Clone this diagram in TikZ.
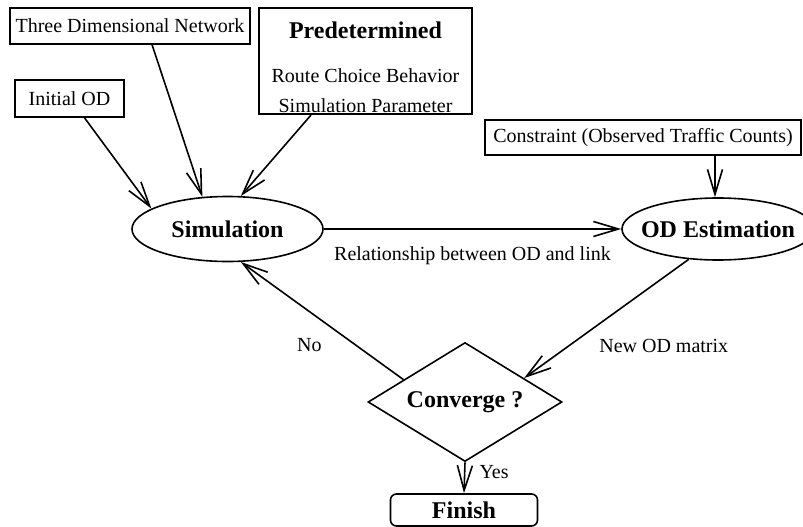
\documentclass[tikz,border=0pt]{standalone}
\usepackage{fontspec}
\setmainfont{Liberation Serif}
\usetikzlibrary{positioning}
\usetikzlibrary{arrows.meta}
\usetikzlibrary{shapes.geometric}

\newcommand{\titlefont}{\fontsize{24}{28}\selectfont\bfseries}

\begin{document}
\begin{tikzpicture}[x=1pt,y=-1pt,
    every node/.style={font=\fontsize{20}{24}\selectfont},
    box/.style={draw,line width=1.6pt,inner sep=0pt},
    oval/.style={draw,ellipse,line width=1.6pt,inner sep=0pt,font=\titlefont},
    lbl/.style={inner sep=0pt},
    flow/.style={-{Straight Barb[length=25pt,width=15pt]},line width=1.6pt}]
            \useasboundingbox (0,0) rectangle (803,527);

            % inputs
            \node(net) [box,minimum width=240pt,minimum height=35.5pt] at (130,26) {Three Dimensional Network};
            \node(pre) [box,minimum width=213pt,minimum height=106pt,align=center,font=\fontsize{20}{29.5}\selectfont] at (365.5,61.25)
                {{\titlefont\rule{0pt}{28.5pt}Predetermined}\\[14.5pt] Route Choice Behavior\\ Simulation Parameter};
            \node(init) [box,minimum width=109pt,minimum height=37pt] at (69.5,98.5) {Initial OD};
            \node(cons) [box,minimum width=316pt,minimum height=35pt] at (643,137.5) {Constraint (Observed Traffic Counts)};

            % loop
            \node(sim) [oval,minimum width=191pt,minimum height=65pt] at (227.5,229) {Simulation};
            \node(od) [oval,inner xsep=-12pt,minimum width=192pt,minimum height=62pt] at (718,229) {OD Estimation};
            \node(conv) [draw,diamond,shape aspect=2,line width=1.6pt,inner sep=0pt,minimum width=194pt,minimum height=119pt,font=\titlefont] at (465,402) {Converge ?};
            \node(fin) [box,rounded corners=6pt,minimum width=147pt,minimum height=32pt,font=\titlefont] at (464,510) {Finish};

            \draw[flow] ([xshift=15pt] init.south) -- (sim.165);
            \draw[flow] ([xshift=22pt] net.south) -- (sim.128);
            \draw[flow] ([xshift=-54.5pt] pre.south) -- (sim.68);
            \draw[flow] ([xshift=-3pt] cons.south -| od.north) -- ([xshift=-3pt] od.north);
            \draw[flow] (sim.east) -- node(rel) [lbl,below=17pt] {Relationship between OD and link} (od.west);
            \draw[flow] (od.226) -- node(newod) [lbl,pos=.73,right=30pt] {New OD matrix} (conv.22);
            \draw[flow] (conv.160) -- node(no) [lbl,pos=.29,left=34pt] {No} (sim.292);
            \draw[flow] (conv.south) -- node(yes) [lbl,pos=.3,right=14pt] {Yes} (fin.north);
        \end{tikzpicture}
\end{document}
